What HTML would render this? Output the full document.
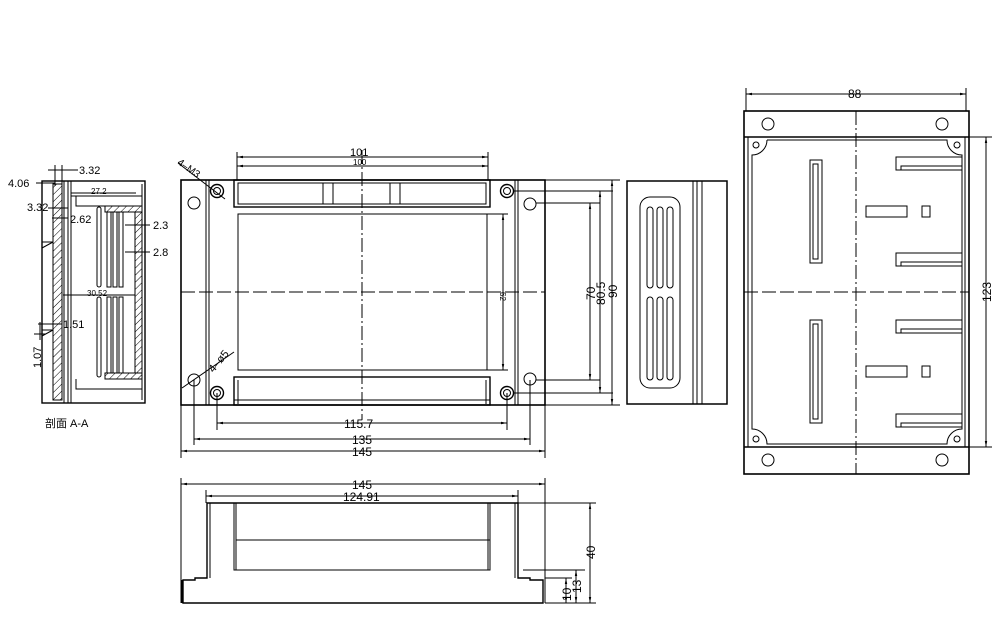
<!DOCTYPE html>
<html><head><meta charset="utf-8"><style>
html,body{margin:0;padding:0;background:#fff;width:994px;height:626px;overflow:hidden}
svg text{font-family:"Liberation Sans","Noto Sans CJK SC",sans-serif;fill:#000}
</style></head><body>
<svg width="994" height="626" viewBox="0 0 994 626" xmlns="http://www.w3.org/2000/svg">
<defs>
<marker id="a" viewBox="0 0 10 10" refX="10" refY="5" markerWidth="6" markerHeight="6" orient="auto-start-reverse"><path d="M0,3L10,5L0,7z" fill="#000"/></marker>
<pattern id="h" width="5" height="5" patternUnits="userSpaceOnUse" patternTransform="rotate(45)"><line x1="0" y1="0" x2="0" y2="5" stroke="#000" stroke-width="1"/></pattern>
</defs>
<g fill="none" stroke="#000" stroke-width="1">
<!-- FRONT VIEW -->
<rect x="181" y="180" width="364" height="225" stroke-width="1.6"/>
<line x1="206" y1="180" x2="206" y2="405"/><line x1="518" y1="180" x2="518" y2="405"/>
<line x1="209" y1="180" x2="209" y2="405"/><line x1="515" y1="180" x2="515" y2="405"/>
<rect x="234" y="180" width="256" height="27" stroke-width="1.4"/>
<rect x="238" y="183" width="248" height="21"/>
<line x1="323" y1="183" x2="323" y2="204"/><line x1="333" y1="183" x2="333" y2="204"/>
<line x1="390" y1="183" x2="390" y2="204"/><line x1="400" y1="183" x2="400" y2="204"/>
<rect x="238" y="214" width="249" height="156"/>
<rect x="234" y="377" width="256" height="28" stroke-width="1.4"/>
<line x1="238" y1="380" x2="238" y2="404"/><line x1="486" y1="380" x2="486" y2="404"/>
<line x1="234" y1="400" x2="490" y2="400"/>
<circle cx="217" cy="191" r="6.5" stroke-width="1.4"/><circle cx="217" cy="191" r="3.5"/>
<circle cx="507" cy="191" r="6.5" stroke-width="1.4"/><circle cx="507" cy="191" r="3.5"/>
<circle cx="217" cy="393" r="6.5" stroke-width="1.4"/><circle cx="217" cy="393" r="3.5"/>
<circle cx="507" cy="393" r="6.5" stroke-width="1.4"/><circle cx="507" cy="393" r="3.5"/>
<circle cx="194" cy="203" r="6"/><circle cx="530" cy="204" r="6"/>
<circle cx="194" cy="380" r="6"/><circle cx="530" cy="379" r="6"/>
<line x1="362" y1="150" x2="362" y2="420" stroke-dasharray="14,3,2,3"/>
<line x1="181" y1="292" x2="545" y2="292" stroke-dasharray="14,4"/>
<line x1="178" y1="163" x2="225" y2="199"/>
<line x1="182" y1="388" x2="234" y2="352"/>
<!-- dims front -->
<line x1="237" y1="152" x2="237" y2="180"/><line x1="488" y1="152" x2="488" y2="180"/>
<line x1="237" y1="157" x2="488" y2="157" marker-start="url(#a)" marker-end="url(#a)"/>
<line x1="237" y1="166" x2="488" y2="166" marker-start="url(#a)" marker-end="url(#a)"/>
<line x1="217" y1="393" x2="217" y2="430"/><line x1="507" y1="393" x2="507" y2="430"/>
<line x1="217" y1="423" x2="507" y2="423" marker-start="url(#a)" marker-end="url(#a)"/>
<line x1="194" y1="380" x2="194" y2="445"/><line x1="530" y1="380" x2="530" y2="445"/>
<line x1="194" y1="439" x2="530" y2="439" marker-start="url(#a)" marker-end="url(#a)"/>
<line x1="181" y1="405" x2="181" y2="458"/><line x1="545" y1="405" x2="545" y2="458"/>
<line x1="181" y1="451" x2="545" y2="451" marker-start="url(#a)" marker-end="url(#a)"/>
<line x1="503" y1="214" x2="503" y2="370" marker-start="url(#a)" marker-end="url(#a)"/>
<line x1="487" y1="214" x2="508" y2="214"/><line x1="487" y1="370" x2="508" y2="370"/>
<line x1="536" y1="203" x2="600" y2="203"/><line x1="536" y1="380" x2="600" y2="380"/>
<line x1="513" y1="191" x2="613" y2="191"/><line x1="513" y1="393" x2="613" y2="393"/>
<line x1="545" y1="180" x2="620" y2="180"/><line x1="545" y1="405" x2="620" y2="405"/>
<line x1="590" y1="203" x2="590" y2="380" marker-start="url(#a)" marker-end="url(#a)"/>
<line x1="600" y1="191" x2="600" y2="393" marker-start="url(#a)" marker-end="url(#a)"/>
<line x1="612" y1="180" x2="612" y2="405" marker-start="url(#a)" marker-end="url(#a)"/>
<!-- SIDE VIEW -->
<rect x="627" y="181" width="100" height="223" stroke-width="1.5"/>
<line x1="693" y1="181" x2="693" y2="404"/><line x1="697" y1="181" x2="697" y2="404"/><line x1="702" y1="181" x2="702" y2="404"/>
<rect x="640" y="197" width="40" height="191" rx="10"/>
<rect x="647" y="207" width="6" height="81" rx="3"/><rect x="657" y="207" width="6" height="81" rx="3"/><rect x="667" y="207" width="6" height="81" rx="3"/>
<rect x="647" y="297" width="6" height="83" rx="3"/><rect x="657" y="297" width="6" height="83" rx="3"/><rect x="667" y="297" width="6" height="83" rx="3"/>
<!-- RIGHT VIEW -->
<rect x="744" y="111" width="225" height="363" stroke-width="1.6"/>
<line x1="744" y1="137" x2="969" y2="137" stroke-width="1.4"/><line x1="744" y1="447" x2="969" y2="447" stroke-width="1.4"/>
<line x1="748" y1="137" x2="748" y2="447"/><line x1="965" y1="137" x2="965" y2="447"/>
<path d="M767,140 H947 A15,15 0 0 0 962,155 V429 A15,15 0 0 0 947,444 H767 A15,15 0 0 0 752,429 V155 A15,15 0 0 0 767,140"/>
<circle cx="768" cy="124" r="6"/><circle cx="942" cy="124" r="6"/><circle cx="768" cy="460" r="6"/><circle cx="942" cy="460" r="6"/>
<circle cx="756" cy="145" r="3"/><circle cx="957" cy="145" r="3"/><circle cx="756" cy="439" r="3"/><circle cx="957" cy="439" r="3"/>
<rect x="810" y="160" width="12" height="103"/><rect x="813" y="164" width="5" height="95"/>
<rect x="810" y="320" width="12" height="103"/><rect x="813" y="324" width="5" height="95"/>
<path d="M962,157H896V170H962M962,166H901V170"/>
<path d="M962,253H896V266H962M962,262H901V266"/>
<path d="M962,320H896V333H962M962,329H901V333"/>
<path d="M962,414H896V427H962M962,423H901V427"/>
<rect x="866" y="206" width="41" height="11"/><rect x="922" y="206" width="8" height="11"/>
<rect x="866" y="366" width="41" height="11"/><rect x="922" y="366" width="8" height="11"/>
<line x1="856" y1="111" x2="856" y2="474" stroke-dasharray="14,3,2,3"/>
<line x1="744" y1="292" x2="969" y2="292" stroke-dasharray="14,4"/>
<line x1="746" y1="88" x2="746" y2="111"/><line x1="966" y1="88" x2="966" y2="111"/>
<line x1="746" y1="94" x2="966" y2="94" marker-start="url(#a)" marker-end="url(#a)"/>
<line x1="969" y1="137" x2="992" y2="137"/><line x1="969" y1="447" x2="992" y2="447"/>
<line x1="986" y1="137" x2="986" y2="447" marker-start="url(#a)" marker-end="url(#a)"/>
<!-- BOTTOM VIEW -->
<path d="M207,503H518V578H530V580H543V603H183V580H195V578H207Z" stroke-width="1.4"/>
<line x1="182" y1="580" x2="182" y2="603"/>
<line x1="210" y1="503" x2="210" y2="578"/><line x1="515" y1="503" x2="515" y2="578"/>
<rect x="234" y="503" width="256" height="67"/><line x1="236" y1="503" x2="236" y2="570"/><line x1="488" y1="503" x2="488" y2="570"/>
<line x1="236" y1="540" x2="490" y2="540"/>
<line x1="181" y1="478" x2="181" y2="603"/><line x1="545" y1="478" x2="545" y2="603"/>
<line x1="181" y1="484" x2="545" y2="484" marker-start="url(#a)" marker-end="url(#a)"/>
<line x1="206" y1="490" x2="206" y2="503"/><line x1="518" y1="490" x2="518" y2="503"/>
<line x1="206" y1="496" x2="518" y2="496" marker-start="url(#a)" marker-end="url(#a)"/>
<line x1="518" y1="503" x2="596" y2="503"/><line x1="545" y1="603" x2="596" y2="603"/>
<line x1="523" y1="570" x2="585" y2="570"/><line x1="545" y1="578" x2="572" y2="578"/>
<line x1="590" y1="503" x2="590" y2="603" marker-start="url(#a)" marker-end="url(#a)"/>
<line x1="576" y1="570" x2="576" y2="603" marker-start="url(#a)" marker-end="url(#a)"/>
<line x1="566" y1="578" x2="566" y2="603" marker-start="url(#a)" marker-end="url(#a)"/>
<!-- SECTION A-A -->
<rect x="42" y="181" width="103" height="222" stroke-width="1.4"/>
<rect x="53" y="184" width="9" height="216" fill="url(#h)"/>
<line x1="64" y1="181" x2="64" y2="403"/><line x1="68" y1="181" x2="68" y2="403"/><line x1="71" y1="181" x2="71" y2="403"/>
<line x1="71" y1="196" x2="142" y2="196"/><line x1="142" y1="184" x2="142" y2="400"/>
<path d="M76,196V206H142"/><path d="M76,379V389H142"/>
<rect x="105" y="206" width="37" height="6" fill="url(#h)"/>
<rect x="105" y="373" width="37" height="6" fill="url(#h)"/>
<rect x="135" y="212" width="7" height="161" fill="url(#h)"/>
<rect x="97" y="207" width="4" height="80" rx="2"/><rect x="107" y="212" width="4" height="75"/><rect x="113" y="212" width="4" height="75"/><rect x="119" y="212" width="4" height="75"/>
<rect x="97" y="297" width="4" height="80" rx="2"/><rect x="107" y="297" width="4" height="76"/><rect x="113" y="297" width="4" height="76"/><rect x="119" y="297" width="4" height="76"/>
<line x1="42" y1="242" x2="53" y2="242"/><line x1="42" y1="248" x2="53" y2="242"/>
<line x1="42" y1="330" x2="53" y2="330"/><line x1="42" y1="336" x2="53" y2="330"/>
<line x1="63" y1="295" x2="135" y2="295"/>
<line x1="71" y1="193" x2="136" y2="193"/>
<line x1="55" y1="165" x2="55" y2="186"/><line x1="62" y1="165" x2="62" y2="186"/>
<line x1="48" y1="170" x2="78" y2="170"/>
<line x1="36" y1="183" x2="55" y2="183"/>
<line x1="48" y1="208" x2="68" y2="208"/>
<line x1="52" y1="218" x2="68" y2="218"/>
<line x1="125" y1="225" x2="150" y2="225"/>
<line x1="125" y1="252" x2="150" y2="252"/>
<line x1="38" y1="324" x2="62" y2="324"/>
<line x1="40" y1="340" x2="40" y2="322"/><line x1="34" y1="334" x2="46" y2="334"/>
</g>
<g font-size="11">
<text x="350" y="156">101</text><text x="353" y="165" font-size="8">100</text>
<text x="176" y="166" font-size="10" transform="rotate(35 180 166)">4–M3</text>
<text x="210" y="370" font-size="11" transform="rotate(-50 215 368)">4–ø5</text>
<text x="344" y="428" font-size="12">115.7</text>
<text x="352" y="444" font-size="12">135</text>
<text x="352" y="456" font-size="12">145</text>
<text x="352" y="489" font-size="12">145</text>
<text x="343" y="501" font-size="12">124.91</text>
<text font-size="8" transform="translate(500,292) rotate(90)">62</text>
<text font-size="12" transform="translate(595,300) rotate(-90)">70</text>
<text font-size="12" transform="translate(605,305) rotate(-90)">80.5</text>
<text font-size="12" transform="translate(617,298) rotate(-90)">90</text>
<text x="848" y="98" font-size="12">88</text>
<text font-size="12" transform="translate(991,302) rotate(-90)">123</text>
<text font-size="12" transform="translate(595,559) rotate(-90)">40</text>
<text font-size="12" transform="translate(581,593) rotate(-90)">13</text>
<text font-size="12" transform="translate(571,601) rotate(-90)">10</text>
<text x="79" y="174">3.32</text>
<text x="8" y="187">4.06</text>
<text x="27" y="211">3.32</text>
<text x="70" y="223">2.62</text>
<text x="91" y="194" font-size="8">27.2</text>
<text x="87" y="296" font-size="8">30.52</text>
<text x="153" y="229">2.3</text>
<text x="153" y="256">2.8</text>
<text x="63" y="328">1.51</text>
<text font-size="11" transform="translate(41,368) rotate(-90)">1.07</text>
<text x="45" y="427" font-size="11">剖面 A-A</text>
</g>
</svg>
</body></html>
